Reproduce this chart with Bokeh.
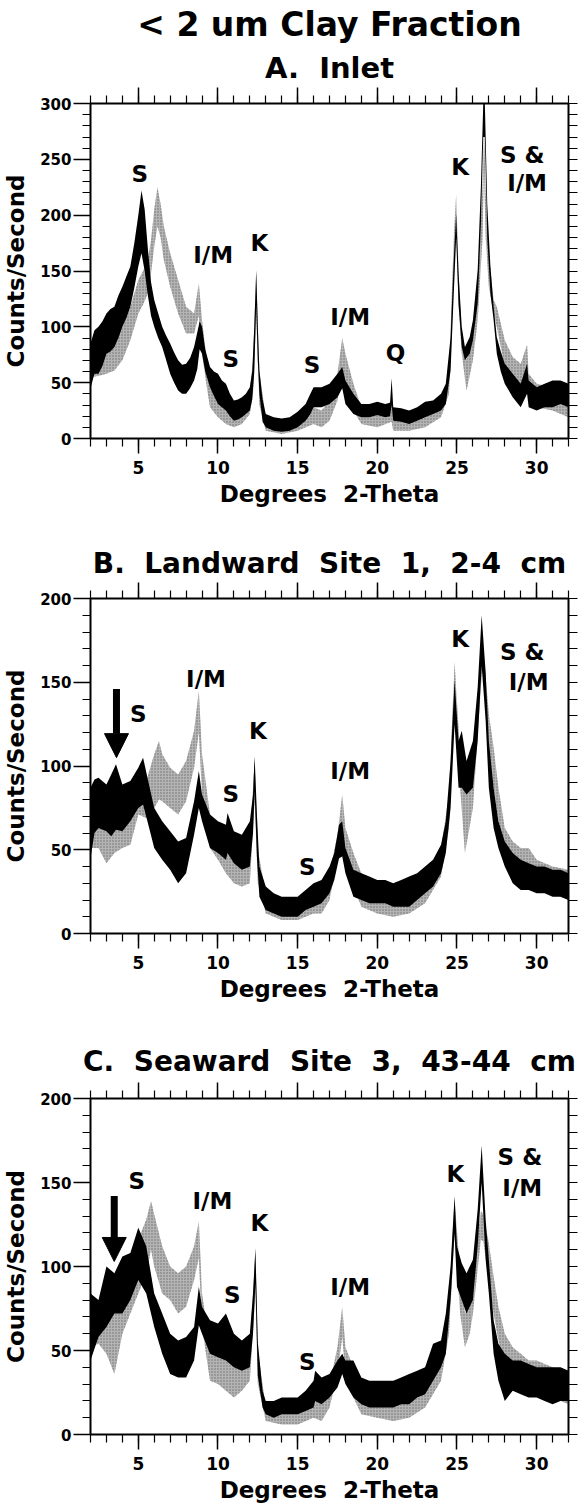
from bokeh.plotting import figure
from bokeh.layouts import column
from bokeh.models import (LinearAxis, SingleIntervalTicker, Range1d, Title,
                          Arrow, NormalHead, ColumnDataSource, CustomLabelingPolicy)
from bokeh.embed import file_html
from bokeh.resources import INLINE
from bokeh.core.properties import value

FONT = "DejaVu Sans"
SP = " \u00a0"  # wide word gap as in the original lettering

# ---------------- Panel A: Inlet ----------------
A_black_x = [2.0, 2.25, 2.5, 2.75, 3.0, 3.25, 3.5, 3.75, 4.0, 4.25, 4.5, 4.75, 5.0, 5.2, 5.4, 5.6, 5.8, 6.0,
             6.25, 6.5, 6.75, 7.0, 7.25, 7.5, 7.75, 8.0, 8.25, 8.5, 8.7, 8.85, 9.0, 9.2, 9.5, 9.75, 10.0,
             10.25, 10.5, 10.75, 11.0, 11.25, 11.5, 11.75, 12.0, 12.15, 12.28, 12.4, 12.5, 12.6, 12.8,
             13.0, 13.5, 14.0, 14.5, 15.0, 15.5, 15.8, 16.0, 16.5, 17.0, 17.5, 17.8, 18.0, 18.5, 19.0,
             19.5, 20.0, 20.5, 20.8, 20.9, 21.0, 21.5, 22.0, 22.5, 23.0, 23.5, 24.0, 24.3, 24.6, 24.8,
             24.95, 25.1, 25.3, 25.5, 25.8, 26.0, 26.3, 26.5, 26.65, 26.75, 26.9, 27.1, 27.3, 27.5,
             27.75, 28.0, 28.5, 29.0, 29.4, 29.5, 30.0, 30.5, 31.0, 31.5, 32.0]
A_black_lo = [45, 58, 58, 65, 76, 78, 82, 90, 100, 108, 118, 135, 154, 166, 150, 128, 110, 100,
              90, 82, 70, 58, 50, 43, 40, 40, 45, 52, 62, 80, 76, 60, 46, 38, 31,
              28, 25, 20, 16, 17, 19, 22, 25, 35, 60, 120, 70, 40, 15,
              10, 7, 6, 7, 10, 16, 22, 28, 28, 31, 37, 45, 31, 22, 19,
              19, 21, 19, 20, 30, 16, 15, 13, 16, 19, 22, 25, 31, 61, 130,
              180, 120, 82, 70, 76, 88, 121, 190, 270, 270, 180, 130, 106, 76,
              60, 49, 37, 28, 40, 28, 25, 28, 28, 31, 28]
A_black_hi = [85, 97, 100, 105, 112, 116, 118, 128, 136, 145, 154, 175, 200, 222, 205, 170, 140, 124,
              112, 100, 92, 85, 77, 70, 66, 67, 72, 82, 95, 105, 100, 80, 64, 60, 58,
              52, 49, 40, 34, 35, 37, 40, 46, 60, 100, 151, 100, 61, 35,
              22, 19, 18, 19, 24, 31, 40, 46, 46, 49, 58, 64, 52, 40, 31,
              31, 33, 31, 32, 54, 28, 27, 25, 28, 33, 34, 40, 49, 91, 160,
              201, 148, 100, 82, 91, 106, 151, 225, 300, 300, 210, 154, 118, 91,
              78, 67, 58, 49, 67, 52, 46, 49, 52, 52, 49]

A_gray_x = [2.0, 2.5, 3.0, 3.5, 4.0, 4.5, 5.0, 5.3, 5.6, 5.8, 6.0, 6.2, 6.4, 6.6, 7.0, 7.5, 8.0, 8.5,
            8.8, 9.0, 9.3, 9.5, 10.0, 10.5, 11.0, 11.5, 12.0, 12.2, 12.4, 12.6, 13.0, 14.0, 15.0,
            16.0, 16.5, 17.0, 17.5, 17.8, 18.0, 18.5, 19.0, 20.0, 20.9, 21.0, 22.0, 23.0, 24.0,
            24.5, 24.8, 24.95, 25.1, 25.3, 25.6, 26.0, 26.3, 26.6, 26.7, 26.8, 27.0, 27.3, 27.5,
            28.0, 28.5, 29.0, 29.4, 29.5, 30.0, 31.0, 32.0]
A_gray_lo = [55, 56, 58, 61, 70, 88, 112, 120, 130, 148, 172, 190, 180, 160, 136, 112, 94, 94,
             110, 76, 46, 28, 19, 13, 10, 13, 22, 40, 110, 30, 7, 4, 7,
             13, 10, 16, 34, 60, 46, 25, 13, 10, 15, 7, 7, 10, 19,
             40, 140, 190, 120, 76, 43, 70, 106, 178, 240, 180, 136, 112, 100,
             64, 52, 46, 55, 34, 28, 25, 19]
A_gray_hi = [76, 78, 82, 88, 100, 118, 142, 150, 160, 178, 205, 225, 210, 190, 166, 142, 118, 112,
             139, 106, 70, 52, 37, 31, 28, 31, 43, 70, 148, 60, 19, 16, 19,
             28, 25, 34, 58, 90, 76, 49, 28, 22, 34, 19, 19, 25, 34,
             58, 180, 219, 150, 88, 70, 91, 130, 225, 276, 220, 166, 124, 118,
             88, 73, 67, 84, 58, 49, 46, 40]

A_label_x = [5.1, 9.7, 12.6, 10.8, 15.9, 18.3, 21.15, 25.2, 29.1, 29.4]
A_label_y = [237, 164, 175, 71, 66, 109, 77, 243, 254, 229]
A_label_t = ["S", "I/M", "K", "S", "S", "I/M", "Q", "K", "S &", "I/M"]

# ---------------- Panel B: Landward Site 1 ----------------
B_black_x = [2.0, 2.25, 2.5, 3.0, 3.3, 3.6, 4.0, 4.5, 5.0, 5.3, 5.6, 6.0, 6.5, 7.0, 7.5, 8.0, 8.5,
             8.8, 9.0, 9.5, 10.0, 10.5, 10.6, 11.0, 11.5, 12.0, 12.2, 12.3, 12.45, 12.6, 13.0, 13.5,
             14.0, 14.5, 15.0, 15.5, 16.0, 16.5, 17.0, 17.3, 17.6, 17.8, 18.0, 18.5, 19.0, 19.5,
             20.0, 20.5, 21.0, 21.5, 22.0, 22.5, 23.0, 23.5, 24.0, 24.3, 24.6, 24.85, 25.1, 25.3,
             25.6, 26.0, 26.3, 26.55, 26.8, 27.0, 27.3, 27.6, 28.0, 28.5, 29.0, 29.5, 30.0, 30.5,
             31.0, 31.5, 32.0]
B_black_lo = [45, 60, 63, 61, 58, 62, 61, 67, 75, 77, 66, 51, 44, 38, 30, 36, 59,
              75, 67, 51, 48, 44, 48, 42, 38, 40, 60, 85, 45, 22, 14, 12,
              10, 10, 10, 14, 16, 18, 24, 32, 45, 46, 36, 22, 20, 18,
              18, 18, 16, 16, 16, 20, 24, 28, 36, 48, 75, 125, 87, 87,
              83, 87, 115, 160, 127, 87, 63, 51, 40, 30, 26, 26, 24, 24,
              22, 22, 20]
B_black_hi = [87, 92, 93, 89, 95, 101, 89, 91, 99, 105, 92, 75, 67, 61, 55, 57, 79,
              97, 83, 71, 67, 65, 72, 61, 59, 67, 83, 106, 70, 40, 28, 24,
              22, 22, 22, 26, 30, 32, 40, 48, 65, 67, 51, 38, 36, 34,
              32, 32, 30, 32, 34, 36, 40, 44, 53, 67, 103, 151, 115, 121,
              103, 115, 147, 190, 156, 115, 87, 67, 55, 48, 44, 42, 40, 40,
              38, 38, 36]

B_gray_x = [2.0, 2.5, 3.0, 3.5, 4.0, 4.5, 5.0, 5.5, 6.0, 6.3, 6.5, 7.0, 7.5, 8.0, 8.5, 8.8, 9.0,
            9.5, 10.0, 10.5, 11.0, 11.5, 12.0, 12.3, 12.5, 13.0, 14.0, 15.0, 16.0, 16.5, 17.0,
            17.5, 17.8, 18.0, 18.5, 19.0, 20.0, 21.0, 22.0, 23.0, 24.0, 24.5, 24.85, 25.2, 25.5,
            26.0, 26.5, 26.6, 27.0, 27.3, 27.6, 28.0, 28.5, 29.0, 29.5, 30.0, 31.0, 32.0]
B_gray_lo = [51, 51, 42, 48, 51, 53, 71, 69, 75, 80, 79, 75, 71, 79, 99, 120, 83,
             51, 44, 36, 30, 28, 30, 80, 30, 12, 8, 8, 12, 12, 20,
             44, 65, 44, 28, 16, 12, 10, 12, 18, 34, 63, 135, 87, 48,
             75, 147, 160, 103, 87, 67, 48, 38, 34, 32, 28, 24, 20]
B_gray_hi = [83, 75, 75, 83, 79, 75, 91, 91, 107, 115, 107, 99, 95, 103, 121, 145, 107,
             71, 63, 57, 53, 51, 55, 103, 50, 24, 20, 18, 24, 22, 36,
             59, 83, 63, 48, 36, 30, 28, 30, 36, 51, 83, 162, 107, 87,
             107, 166, 176, 131, 111, 87, 63, 55, 51, 51, 44, 40, 38]

B_label_x = [5.0, 9.25, 12.5, 10.8, 15.6, 18.3, 25.2, 29.1, 29.5]
B_label_y = [131, 152, 121, 83, 40, 97, 176, 168, 150]
B_label_t = ["S", "I/M", "K", "S", "S", "I/M", "K", "S &", "I/M"]
B_arrow_x = [3.63]
B_arrow_top = [146]
B_arrow_tip = [105]

# ---------------- Panel C: Seaward Site 3 ----------------
C_black_x = [2.0, 2.5, 3.0, 3.5, 4.0, 4.5, 5.0, 5.5, 6.0, 6.5, 7.0, 7.5, 8.0, 8.5, 8.8, 9.0, 9.5,
             10.0, 10.5, 11.0, 11.5, 12.0, 12.2, 12.35, 12.5, 12.8, 13.0, 13.5, 14.0, 14.5, 15.0,
             15.5, 16.0, 16.1, 16.5, 17.0, 17.5, 17.8, 18.0, 18.5, 19.0, 19.5, 20.0, 20.5, 21.0,
             21.5, 22.0, 22.5, 23.0, 23.5, 24.0, 24.3, 24.6, 24.85, 25.0, 25.3, 25.6, 26.0, 26.3,
             26.55, 26.8, 27.0, 27.3, 27.6, 28.0, 28.5, 29.0, 29.5, 30.0, 30.5, 31.0, 31.5, 32.0]
C_black_lo = [44, 58, 64, 72, 72, 80, 92, 84, 64, 48, 36, 34, 34, 44, 65, 60, 48,
              46, 44, 40, 38, 40, 60, 90, 35, 16, 12, 10, 12, 12, 12,
              14, 16, 20, 18, 22, 28, 36, 30, 22, 18, 16, 16, 16, 16,
              18, 18, 22, 24, 32, 40, 48, 80, 120, 88, 80, 72, 80, 112,
              150, 104, 84, 48, 32, 20, 26, 24, 22, 22, 20, 18, 20, 20]
C_black_hi = [84, 80, 100, 96, 106, 108, 123, 112, 84, 72, 60, 56, 58, 64, 88, 76, 68,
              66, 72, 60, 56, 60, 84, 111, 55, 26, 20, 20, 22, 22, 22,
              26, 32, 38, 34, 36, 44, 48, 44, 44, 34, 32, 32, 32, 32,
              34, 36, 38, 40, 54, 56, 72, 100, 142, 112, 102, 96, 104, 134,
              172, 128, 104, 68, 54, 48, 44, 44, 42, 40, 40, 40, 40, 38]

C_gray_x = [2.0, 2.5, 3.0, 3.5, 4.0, 4.5, 5.0, 5.5, 5.8, 6.0, 6.5, 7.0, 7.5, 8.0, 8.5, 8.8, 9.0,
            9.5, 10.0, 10.5, 11.0, 11.5, 12.0, 12.35, 12.5, 13.0, 14.0, 15.0, 16.0, 16.5, 17.0,
            17.5, 17.8, 18.0, 18.5, 19.0, 20.0, 21.0, 22.0, 23.0, 24.0, 24.5, 24.85, 25.2, 25.5,
            25.8, 26.0, 26.5, 26.65, 27.0, 27.3, 27.6, 28.0, 28.5, 29.0, 29.5, 30.0, 31.0, 32.0]
C_gray_lo = [52, 54, 48, 36, 60, 72, 84, 96, 110, 100, 84, 80, 72, 76, 92, 105, 64,
             32, 30, 26, 22, 26, 32, 85, 30, 8, 6, 6, 10, 8, 16,
             36, 58, 36, 22, 12, 10, 8, 10, 16, 32, 60, 120, 72, 52,
             60, 72, 116, 115, 92, 72, 56, 40, 34, 32, 28, 26, 22, 18]
C_gray_hi = [84, 76, 84, 84, 88, 100, 116, 128, 139, 131, 112, 100, 96, 100, 112, 127, 84,
             52, 48, 48, 44, 44, 52, 108, 50, 16, 16, 16, 22, 20, 30,
             52, 76, 52, 40, 32, 28, 26, 28, 32, 48, 80, 140, 96, 72,
             80, 96, 133, 131, 114, 94, 76, 60, 52, 48, 44, 44, 40, 36]

C_label_x = [4.9, 9.65, 12.6, 10.9, 15.6, 18.3, 24.9, 28.95, 29.1]
C_label_y = [151, 139, 126, 83, 43, 88, 155, 165, 147]
C_label_t = ["S", "I/M", "K", "S", "S", "I/M", "K", "S &", "I/M"]
C_arrow_x = [3.49]
C_arrow_top = [142]
C_arrow_tip = [103]

X_TICKS_MAJOR = 5
Y_TICKS_MAJOR = 50

NO_LABELS = "for (const i of indices) { indices.unset(i) }\nreturn indices"


def make_panel(ymax, outer_title, inner_title, bx, blo, bhi, gx, glo, ghi,
               lx, ly, lt, arrow=None, frame_h=335, border_bottom=60, title_standoff=2):
    p = figure(frame_width=478, frame_height=frame_h,
               x_range=Range1d(2, 32), y_range=Range1d(0, ymax),
               toolbar_location=None, output_backend="svg",
               min_border_left=82, min_border_right=12, min_border_top=0,
               min_border_bottom=border_bottom,
               background_fill_color="white", border_fill_color="white")
    p.outline_line_color = None
    p.grid.visible = False

    p.title.text = outer_title
    p.title.align = "center"
    p.title.text_font = FONT
    p.title.text_font_style = "bold"
    p.title.text_font_size = "33px" if inner_title else "28px"
    p.title.text_color = "black"
    p.title.standoff = title_standoff

    # gray trace (behind)
    gsrc = ColumnDataSource(dict(x=gx, lo=glo, hi=ghi))
    p.varea(x="x", y1="lo", y2="hi", source=gsrc, fill_color="#b4b4b4",
            hatch_pattern="dot", hatch_color="#6e6e6e", hatch_scale=3, hatch_weight=1)
    # black trace
    bsrc = ColumnDataSource(dict(x=bx, lo=blo, hi=bhi))
    p.varea(x="x", y1="lo", y2="hi", source=bsrc, fill_color="black")

    lsrc = ColumnDataSource(dict(x=lx, y=ly, t=lt))
    p.text(x="x", y="y", text="t", source=lsrc, text_font=value(FONT),
           text_font_style="bold", text_font_size="23px", text_align="center",
           text_baseline="middle", text_color="black")

    if arrow is not None:
        ax, atop, atip = arrow
        for x0, y0, y1 in zip(ax, atop, atip):
            p.add_layout(Arrow(x_start=x0, y_start=y0, x_end=x0, y_end=y1,
                               line_width=7, line_color="black",
                               end=NormalHead(size=24, fill_color="black", line_color="black")))

    xa = p.xaxis[0]
    xa.ticker = SingleIntervalTicker(interval=X_TICKS_MAJOR, num_minor_ticks=5)
    ya = p.yaxis[0]
    ya.ticker = SingleIntervalTicker(interval=Y_TICKS_MAJOR, num_minor_ticks=5)
    ya.axis_label = "Counts/Second"
    ya.major_tick_out = 17
    ya.minor_tick_out = 8
    ya.major_label_text_font_size = "15px"
    ya.axis_label_standoff = 8
    ya.major_label_standoff = 2

    xa.axis_label = "Degrees" + SP + "2-Theta"
    xa.major_tick_out = 15
    xa.minor_tick_out = 8
    xa.major_label_text_font_size = "17px"
    xa.major_label_standoff = 7
    xa.axis_label_standoff = 4

    for ax_ in (xa, ya):
        ax_.major_tick_in = 0
        ax_.minor_tick_in = 0
        ax_.axis_line_width = 2
        ax_.major_tick_line_width = 1.5
        ax_.minor_tick_line_width = 1.2
        ax_.major_label_text_font = FONT
        ax_.major_label_text_font_style = "bold"
        ax_.major_label_text_color = "black"
        ax_.axis_label_text_font = FONT
        ax_.axis_label_text_font_style = "bold"
        ax_.axis_label_text_font_size = "23px"
        ax_.axis_label_text_color = "black"

    # top axis (ticks only, no labels)
    top = LinearAxis(ticker=SingleIntervalTicker(interval=X_TICKS_MAJOR, num_minor_ticks=5),
                     major_tick_out=16, minor_tick_out=8, major_tick_in=0, minor_tick_in=0,
                     major_label_policy=CustomLabelingPolicy(code=NO_LABELS),
                     major_label_text_font_size="0px", major_label_standoff=0,
                     axis_line_width=2, major_tick_line_width=1.5, minor_tick_line_width=1.2)
    p.add_layout(top, "above")
    # right axis (ticks only, no labels)
    right = LinearAxis(ticker=SingleIntervalTicker(interval=10, num_minor_ticks=0),
                       major_tick_out=9, major_tick_in=0, minor_tick_out=0, minor_tick_in=0,
                       major_label_policy=CustomLabelingPolicy(code=NO_LABELS),
                       major_label_text_font_size="0px", major_label_standoff=0,
                       axis_line_width=2, major_tick_line_width=1.2)
    p.add_layout(right, "right")

    if inner_title:
        p.add_layout(Title(text=inner_title, align="center", text_font=FONT,
                           text_font_style="bold", text_font_size="29px",
                           text_color="black", standoff=6), "above")
    return p


pA = make_panel(300, "< 2 um Clay Fraction", "A." + SP + "Inlet",
                A_black_x, A_black_lo, A_black_hi, A_gray_x, A_gray_lo, A_gray_hi,
                A_label_x, A_label_y, A_label_t, frame_h=335, border_bottom=60, title_standoff=4)
pB = make_panel(200, "B." + SP + "Landward" + SP + "Site" + SP + "1," + SP + "2-4" + SP + "cm", None,
                B_black_x, B_black_lo, B_black_hi, B_gray_x, B_gray_lo, B_gray_hi,
                B_label_x, B_label_y, B_label_t,
                arrow=(B_arrow_x, B_arrow_top, B_arrow_tip), frame_h=335, border_bottom=60,
                title_standoff=5)
pC = make_panel(200, "C." + SP + "Seaward" + SP + "Site" + SP + "3," + SP + "43-44" + SP + "cm", None,
                C_black_x, C_black_lo, C_black_hi, C_gray_x, C_gray_lo, C_gray_hi,
                C_label_x, C_label_y, C_label_t,
                arrow=(C_arrow_x, C_arrow_top, C_arrow_tip), frame_h=336, border_bottom=60,
                title_standoff=10)

layout = column(pA, pB, pC, spacing=33)
open("out.html", "w").write(file_html(layout, INLINE))
